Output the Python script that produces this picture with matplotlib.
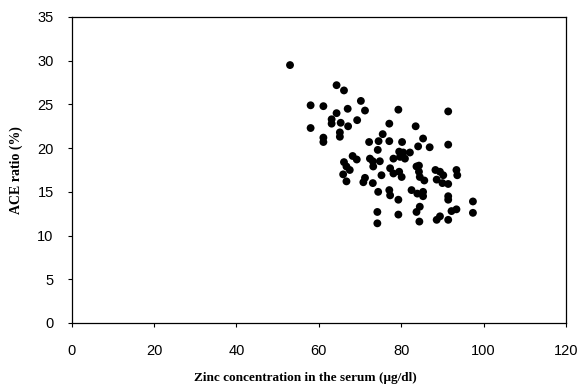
import matplotlib
matplotlib.use("Agg")
import matplotlib.pyplot as plt

# serum zinc (ug/dl) vs ACE ratio (%)
zinc = [53.0, 64.3, 66.1, 58.0, 61.1, 70.2, 67.0, 71.2, 64.3, 79.3,
        91.4, 63.1, 63.1, 65.3, 69.3, 67.1, 58.0, 77.1, 83.5, 61.1,
        61.1, 65.1, 65.1, 75.5, 85.3, 72.2, 74.5, 77.1, 80.2, 84.1,
        86.9, 91.4, 74.3, 68.2, 69.2, 72.4, 73.1, 74.8, 78.1, 79.5,
        80.5, 82.1, 79.7, 80.9, 66.1, 66.7, 67.5, 73.2, 77.3, 78.1,
        79.5, 80.1, 65.9, 75.2, 71.2, 70.8, 66.7, 73.1, 83.7, 84.3,
        84.3, 84.5, 85.6, 88.3, 89.4, 90.2, 88.6, 90.0, 91.4, 93.4,
        93.6, 74.4, 77.1, 77.3, 79.3, 74.2, 79.3, 74.2, 82.5, 83.9,
        85.3, 85.3, 84.5, 83.7, 84.4, 91.4, 91.4, 97.4, 97.4, 92.2,
        93.4, 88.6, 89.4, 91.4]
ace = [29.5, 27.2, 26.6, 24.9, 24.8, 25.4, 24.5, 24.3, 24.0, 24.4,
       24.2, 23.3, 22.8, 22.9, 23.2, 22.5, 22.3, 22.8, 22.5, 21.2,
       20.7, 21.8, 21.3, 21.6, 21.1, 20.7, 20.8, 20.8, 20.7, 20.2,
       20.1, 20.4, 19.8, 19.1, 18.7, 18.8, 18.5, 18.5, 18.8, 19.6,
       19.5, 19.5, 19.0, 18.8, 18.4, 17.9, 17.5, 17.9, 17.7, 17.1,
       17.3, 16.7, 17.0, 16.9, 16.6, 16.1, 16.2, 16.0, 17.9, 18.0,
       17.3, 16.7, 16.3, 17.5, 17.3, 16.9, 16.4, 16.0, 15.9, 17.5,
       16.9, 15.0, 15.2, 14.6, 14.1, 12.7, 12.4, 11.4, 15.2, 14.8,
       15.0, 14.5, 13.3, 12.7, 11.6, 14.5, 14.1, 13.9, 12.6, 12.8,
       13.0, 11.8, 12.2, 11.8]

x_ticks = [0, 20, 40, 60, 80, 100, 120]
y_ticks = [0, 5, 10, 15, 20, 25, 30, 35]

fig = plt.figure(figsize=(5.8, 3.87), dpi=100)
ax = fig.add_axes([0.1236, 0.1654, 0.8523, 0.7907])

ax.scatter(zinc, ace, s=32, color="black", edgecolors="none", zorder=3)

ax.set_xlim(0, 120)
ax.set_ylim(0, 35)
ax.set_xticks(x_ticks)
ax.set_yticks(y_ticks)
for sp in ax.spines.values():
    sp.set_linewidth(0.9)
ax.tick_params(axis="both", direction="out", length=3, width=0.8,
               labelsize=10.5)
ax.tick_params(axis="x", pad=12)
ax.tick_params(axis="y", pad=10)
for lab in ax.get_xticklabels() + ax.get_yticklabels():
    lab.set_family("Liberation Sans")

ax.set_ylabel("ACE ratio (%)", family="Liberation Serif", fontweight="bold",
              fontsize=10, labelpad=10)
fig.text(305 / 580, 1 - 378 / 387, "Zinc concentration in the serum (\u03bcg/dl)",
         family="Liberation Serif", fontweight="bold", fontsize=9.5,
         ha="center", va="center")

fig.savefig("out.png", dpi=100)
